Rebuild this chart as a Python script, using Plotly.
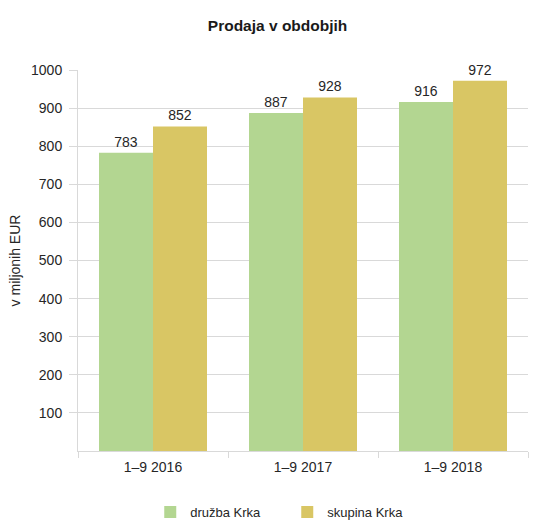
import plotly.graph_objects as go

categories = ["1–9 2016", "1–9 2017", "1–9 2018"]
druzba = [783, 887, 916]
skupina = [852, 928, 972]
series_names = ["družba Krka", "skupina Krka"]
y_ticks = [100, 200, 300, 400, 500, 600, 700, 800, 900, 1000]

font_fam = "Liberation Sans, Arial, sans-serif"
fig = go.Figure()
for name, vals, col in [(series_names[0], druzba, "#B3D691"), (series_names[1], skupina, "#D9C664")]:
    fig.add_trace(go.Bar(
        x=categories, y=vals, name=name, marker=dict(color=col, line=dict(width=0)),
        text=[str(v) for v in vals], textposition="outside", cliponaxis=False,
        textfont=dict(size=14, color="#262626", family=font_fam),
    ))

fig.update_layout(
    width=540, height=521,
    margin=dict(l=78, r=12, t=70, b=70, autoexpand=False),
    paper_bgcolor="white", plot_bgcolor="white",
    barmode="group", bargap=0.28, bargroupgap=0,
    title=dict(text="<b>Prodaja v obdobjih</b>", x=0.514, xanchor="center", y=0.95, yanchor="middle",
               font=dict(size=15.5, color="#1a1a1a", family=font_fam)),
    font=dict(family=font_fam, size=13, color="#262626"),
    showlegend=True,
    legend=dict(orientation="h", x=0.465, xanchor="center", y=-0.16, yanchor="middle",
                font=dict(size=13, color="#262626"), entrywidth=92, itemwidth=30,
                traceorder="normal"),
    uniformtext=dict(minsize=14, mode="show"),
)
fig.update_xaxes(showline=True, linecolor="#d9d9d9", linewidth=1, ticks="outside",
                 tickson="boundaries", ticklen=6, tickcolor="#d9d9d9", automargin=False,
                 ticklabelstandoff=3,
                 tickfont=dict(size=14, color="#262626"), showgrid=False)
fig.update_yaxes(range=[0, 1000], tickvals=y_ticks, showline=True, linecolor="#d9d9d9",
                 linewidth=1, ticks="outside", ticklen=8, tickcolor="#d9d9d9", automargin=False,
                 ticklabelstandoff=4,
                 gridcolor="#d9d9d9", gridwidth=1, tickfont=dict(size=14, color="#262626"),
                 title=dict(text="v miljonih EUR", font=dict(size=14, color="#262626"), standoff=7),
                 zeroline=False)

fig.write_html("out.html", config={"displayModeBar": False},
               post_script="document.body.style.margin='0';")
